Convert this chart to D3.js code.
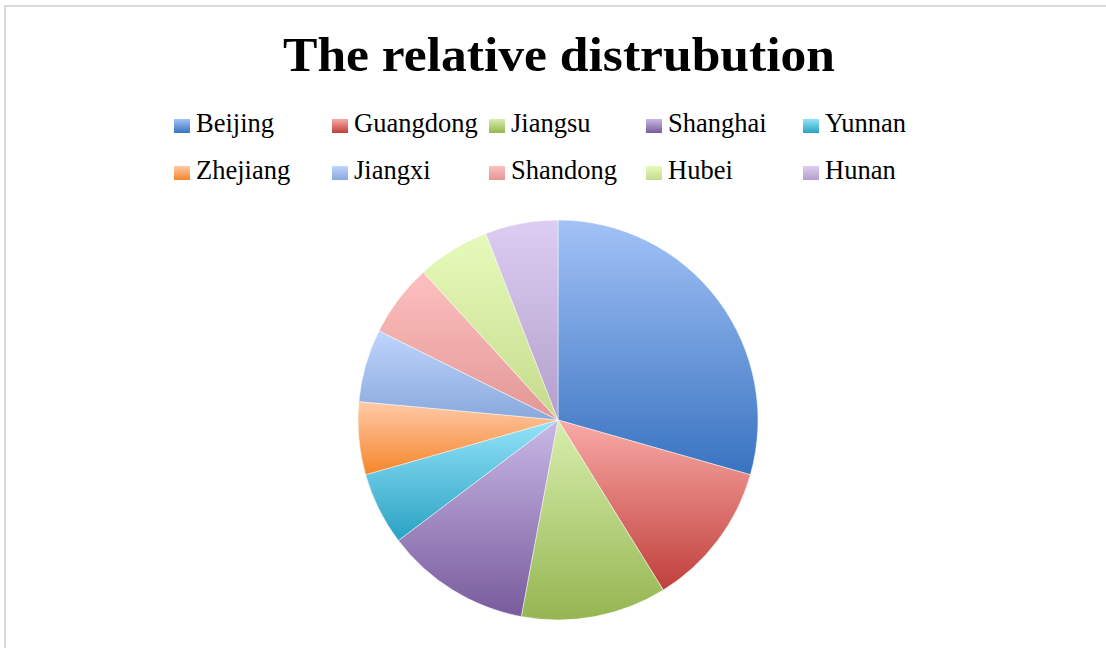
<!DOCTYPE html>
<html>
<head>
<meta charset="utf-8">
<script src="https://cdn.jsdelivr.net/npm/d3@7/dist/d3.min.js"></script>
<style>
  html, body { margin: 0; padding: 0; background: #fff; }
  svg { display: block; }
</style>
</head>
<body>
<svg id="chart" width="1106" height="648"></svg>
<script>
// Regional distribution, one slice per province/municipality
const categories = ["Beijing", "Guangdong", "Jiangsu", "Shanghai", "Yunnan",
                    "Zhejiang", "Jiangxi", "Shandong", "Hubei", "Hunan"];
const values = [5, 2, 2, 2, 1, 1, 1, 1, 1, 1];
// Gradient end colours per slice: light at top, base colour at bottom
const lightColors = ["#a3c2f7", "#f9aaa6", "#d8eeae", "#c9b8e6", "#93e3f9",
                     "#ffcaa9", "#bfd5fd", "#fdc0bf", "#e6fbbb", "#dccdf2"];
const darkColors  = ["#3873c0", "#c03f3b", "#95b651", "#785b9c", "#2aa2c2",
                     "#f5852a", "#88a8dc", "#e29796", "#c6da8c", "#b39fcb"];
const titleText = "The relative distrubution";

const svg = d3.select("#chart");
const W = 1106, H = 648;

// Chart frame
svg.append("rect")
  .attr("x", 5).attr("y", 6)
  .attr("width", W + 20).attr("height", H + 20)
  .attr("fill", "#fff")
  .attr("stroke", "#d9d9d9").attr("stroke-width", 2);

const defs = svg.append("defs");
categories.forEach((c, i) => {
  const g = defs.append("linearGradient")
    .attr("id", "grad" + i)
    .attr("x1", 0).attr("y1", 0).attr("x2", 0).attr("y2", 1);
  g.append("stop").attr("offset", "0%").attr("stop-color", lightColors[i]);
  g.append("stop").attr("offset", "100%").attr("stop-color", darkColors[i]);
});

// Title
svg.append("text")
  .attr("x", 559).attr("y", 71)
  .attr("text-anchor", "middle")
  .attr("font-family", "'Liberation Serif', 'DejaVu Serif', serif")
  .attr("font-weight", "bold")
  .attr("font-size", 49)
  .attr("textLength", 552)
  .attr("lengthAdjust", "spacingAndGlyphs")
  .attr("fill", "#000")
  .text(titleText);

// Legend: 5 columns, 2 rows
const legendCols = d3.scaleOrdinal().domain([0, 1, 2, 3, 4]).range([174, 332, 489, 646, 803]);
const legendRows = d3.scaleOrdinal().domain([0, 1]).range([132, 179]);
const legend = svg.append("g");
categories.forEach((c, i) => {
  const col = i % 5, row = Math.floor(i / 5);
  const x = legendCols(col), y = legendRows(row);
  legend.append("rect")
    .attr("x", x).attr("y", y - 13)
    .attr("width", 16).attr("height", 14)
    .attr("fill", `url(#grad${i})`);
  legend.append("text")
    .attr("x", x + 22).attr("y", y)
    .attr("font-family", "'Liberation Serif', 'DejaVu Serif', serif")
    .attr("font-size", 26.5)
    .attr("fill", "#000")
    .text(c);
});

// Pie
const cx = 558, cy = 420, R = 200;
const pie = d3.pie().sort(null).value(d => d.v);
const arc = d3.arc().innerRadius(0).outerRadius(R);
const data = categories.map((c, i) => ({ c, v: values[i], i }));

svg.append("g")
  .attr("transform", `translate(${cx},${cy})`)
  .selectAll("path")
  .data(pie(data))
  .join("path")
  .attr("d", arc)
  .attr("fill", d => `url(#grad${d.data.i})`)
  .attr("stroke", "#ffffff")
  .attr("stroke-opacity", 0.6)
  .attr("stroke-width", 0.8);
</script>
</body>
</html>
